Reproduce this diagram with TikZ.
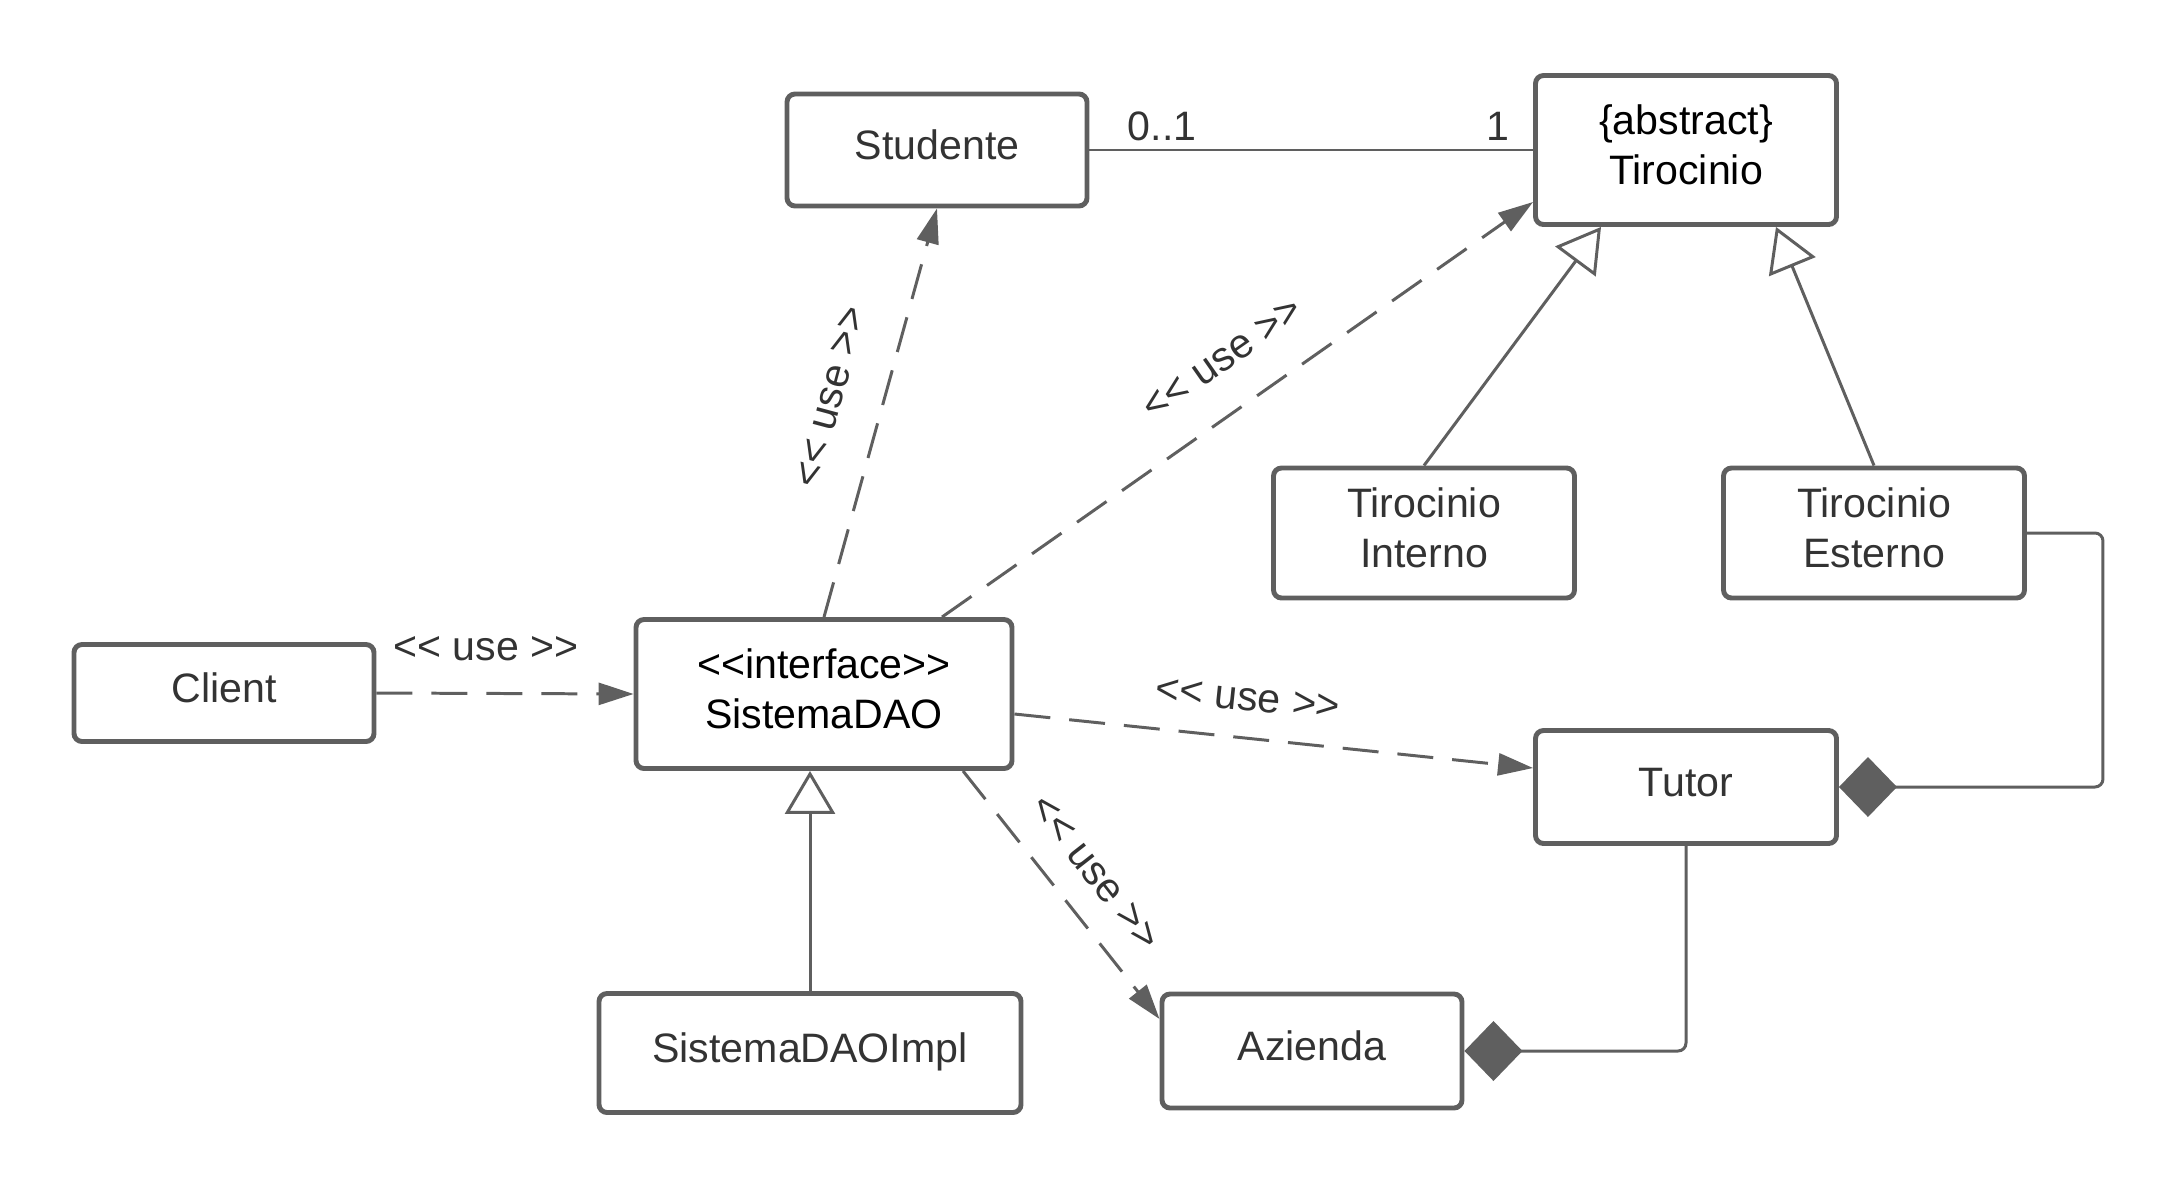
\documentclass[tikz,border=0pt]{standalone}
\usepackage{fontspec}
\setmainfont{Liberation Sans}
\usetikzlibrary{arrows.meta}

\definecolor{linegray}{HTML}{5F5F5F}
\definecolor{textgray}{HTML}{333333}

% stereotype brackets (kern keeps << from becoming a guillemet)
\newcommand{\stl}{<\kern0pt<}
\newcommand{\stg}{>\kern0pt>}

\begin{document}
\begin{tikzpicture}[
    font=\fontsize{11.7}{14.2}\selectfont,
    class/.style={draw=linegray, line width=1.4pt, rounded corners=0.08cm, fill=white,
        align=center, text=textgray, inner sep=0pt, text depth=0.1cm},
    usearrow/.style={draw=linegray, line width=0.85pt, dash pattern=on 0.36cm off 0.19cm,
        -{Triangle[length=0.35cm, width=0.22cm]}},
    inherit/.style={draw=linegray, line width=0.85pt,
        -{Triangle[open, length=0.43cm, width=0.5cm, fill=white]}},
    compose/.style={draw=linegray, line width=0.85pt, rounded corners=0.08cm,
        -{Diamond[length=0.58cm, width=0.6cm]}},
    lbl/.style={text=textgray, inner sep=1pt}
]

\useasboundingbox (0,0) rectangle (21.79,-11.89);

% Classes
\node[class, minimum width=3.00cm, minimum height=1.12cm] (studente) at (9.37,-1.50) {Studente};
\node[class, minimum width=3.01cm, minimum height=1.49cm, text=black] (tirocinio) at (16.86,-1.50) {\{abstract\}\\Tirocinio};
\node[class, minimum width=3.01cm, minimum height=1.30cm] (interno) at (14.24,-5.33) {Tirocinio\\Interno};
\node[class, minimum width=3.01cm, minimum height=1.30cm] (esterno) at (18.74,-5.33) {Tirocinio\\Esterno};
\node[class, minimum width=3.00cm, minimum height=0.97cm] (client) at (2.24,-6.93) {Client};
\node[class, minimum width=3.76cm, minimum height=1.49cm, text=black] (dao) at (8.24,-6.94) {\stl interface\stg\\SistemaDAO};
\node[class, minimum width=3.01cm, minimum height=1.13cm] (tutor) at (16.86,-7.87) {Tutor};
\node[class, minimum width=4.22cm, minimum height=1.19cm] (daoimpl) at (8.10,-10.53) {SistemaDAOImpl};
\node[class, minimum width=3.00cm, minimum height=1.14cm] (azienda) at (13.12,-10.51) {Azienda};

% Association Studente - Tirocinio
\draw[draw=linegray, line width=0.85pt] (studente.east) -- (tirocinio.west);
\node[lbl] (molt1) at (11.62,-1.26) {0..1};
\node[lbl] (molt2) at (14.98,-1.26) {1};

% Dependencies << use >>
\draw[usearrow] (client.east) -- (dao.west);
\draw[usearrow] (dao.north) -- (studente.south);
\draw[usearrow] ([xshift=1.18cm]dao.north) -- ([yshift=-0.52cm]tirocinio.west);
\draw[usearrow] ([yshift=-0.2cm]dao.east) -- ([yshift=0.19cm]tutor.west);
\draw[usearrow] ([xshift=1.39cm]dao.south) -- ([yshift=0.32cm]azienda.west);

\node[lbl] (use1) at (4.86,-6.49) {\stl{} use \stg};
\node[lbl, rotate=75] (use2) at (8.31,-3.97) {\stl{} use \stg};
\node[lbl, rotate=35] (use3) at (12.23,-3.59) {\stl{} use \stg};
\node[lbl, rotate=-6] (use4) at (12.48,-6.99) {\stl{} use \stg};
\node[lbl, rotate=-52] (use5) at (10.95,-8.73) {\stl{} use \stg};

% Generalizations
\draw[inherit] (daoimpl.north) -- (daoimpl.north |- dao.south);
\draw[inherit] (interno.north) -- ([xshift=-0.85cm]tirocinio.south);
\draw[inherit] (esterno.north) -- ([xshift=0.90cm]tirocinio.south);

% Compositions
\draw[compose] (esterno.east) -- ++(0.76,0) |- (tutor.east);
\draw[compose] (tutor.south) |- (azienda.east);

\end{tikzpicture}
\end{document}
